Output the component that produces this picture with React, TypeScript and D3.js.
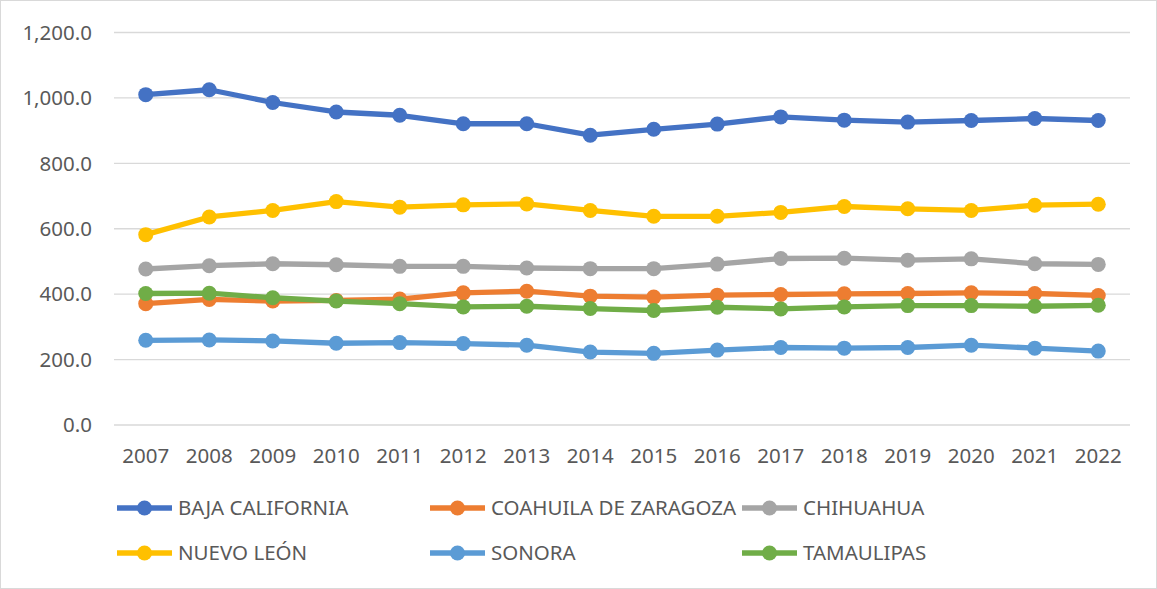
import React, { useRef, useEffect } from "react";
import * as d3 from "d3";

const years = ["2007", "2008", "2009", "2010", "2011", "2012", "2013", "2014", "2015", "2016", "2017", "2018", "2019", "2020", "2021", "2022"];
const yTicks = [0, 200, 400, 600, 800, 1000, 1200];

const bajaCalifornia = [1010, 1025, 986, 957, 947, 921, 921, 886, 904, 920, 942, 932, 926, 931, 937, 931];
const coahuila = [371, 384, 379, 381, 385, 404, 409, 394, 391, 397, 399, 401, 402, 404, 402, 396];
const chihuahua = [477, 487, 493, 490, 485, 485, 480, 478, 478, 492, 509, 510, 504, 508, 493, 491];
const nuevoLeon = [582, 636, 656, 683, 666, 673, 676, 656, 638, 638, 650, 668, 661, 656, 672, 675];
const sonora = [259, 260, 257, 250, 252, 249, 244, 223, 219, 229, 237, 235, 237, 244, 235, 226];
const tamaulipas = [402, 403, 389, 379, 371, 361, 363, 356, 350, 360, 355, 361, 365, 365, 363, 366];

const seriesNames = ["BAJA CALIFORNIA", "COAHUILA DE ZARAGOZA", "CHIHUAHUA", "NUEVO LEÓN", "SONORA", "TAMAULIPAS"];
const seriesValues = [bajaCalifornia, coahuila, chihuahua, nuevoLeon, sonora, tamaulipas];
const colors = ["#4472C4", "#ED7D31", "#A5A5A5", "#FFC000", "#5B9BD5", "#70AD47"];

const W = 1157;
const H = 589;
const FONT = "'Noto Sans', sans-serif";
const FS = 20.5;

export default function App() {
  const ref = useRef(null);

  useEffect(() => {
    const svg = d3.select(ref.current);
    svg.selectAll("*").remove();

    svg.append("rect")
      .attr("x", 0.5).attr("y", 0.5)
      .attr("width", W - 1).attr("height", H - 1)
      .attr("fill", "#fff").attr("stroke", "#d9d9d9");

    const x = d3.scaleBand().domain(years).range([114, 1130]);
    const y = d3.scaleLinear().domain([0, 1200]).range([425, 32.5]);

    // gridlines
    svg.append("g").selectAll("line").data(yTicks).join("line")
      .attr("x1", 114).attr("x2", 1130)
      .attr("y1", d => y(d)).attr("y2", d => y(d))
      .attr("stroke", "#d9d9d9").attr("stroke-width", 1.3);

    // y labels
    svg.append("g").selectAll("text").data(yTicks).join("text")
      .attr("x", 92).attr("y", d => y(d))
      .attr("dy", "0.35em")
      .attr("text-anchor", "end")
      .attr("font-family", FONT).attr("font-size", FS)
      .attr("fill", "#595959")
      .text(d => d3.format(",.1f")(d));

    // x labels
    svg.append("g").selectAll("text").data(years).join("text")
      .attr("x", d => x(d)! + x.bandwidth() / 2).attr("y", 456)
      .attr("dy", "0.35em")
      .attr("text-anchor", "middle")
      .attr("font-family", FONT).attr("font-size", FS)
      .attr("fill", "#595959")
      .text(d => d);

    const cx = (i: number) => x(years[i])! + x.bandwidth() / 2;
    const line = d3.line<number>().x((_, i) => cx(i)).y(d => y(d));

    seriesValues.forEach((vals, s) => {
      const g = svg.append("g");
      g.append("path")
        .attr("d", line(vals))
        .attr("fill", "none")
        .attr("stroke", colors[s])
        .attr("stroke-width", 5.3)
        .attr("stroke-linejoin", "round");
      g.selectAll("circle").data(vals).join("circle")
        .attr("cx", (_, i) => cx(i)).attr("cy", d => y(d))
        .attr("r", 7.5)
        .attr("fill", colors[s]);
    });

    // legend
    const legX = [117, 430, 742];
    const legY = [508, 553];
    seriesNames.forEach((name, s) => {
      const lx = legX[s % 3];
      const ly = legY[Math.floor(s / 3)];
      const g = svg.append("g");
      g.append("line")
        .attr("x1", lx).attr("x2", lx + 55)
        .attr("y1", ly).attr("y2", ly)
        .attr("stroke", colors[s]).attr("stroke-width", 5.3);
      g.append("circle")
        .attr("cx", lx + 27.5).attr("cy", ly).attr("r", 7.5)
        .attr("fill", colors[s]);
      g.append("text")
        .attr("x", lx + 61).attr("y", ly)
        .attr("dy", "0.35em")
        .attr("font-family", FONT).attr("font-size", FS)
        .attr("fill", "#595959")
        .text(name);
    });
  }, []);

  return (
    <svg
      ref={ref}
      width={W}
      height={H}
      style={{ position: "absolute", left: 0, top: 0, display: "block" }}
    />
  );
}
